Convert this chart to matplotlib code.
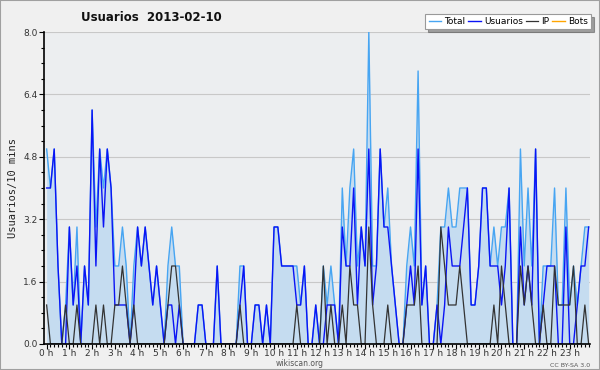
import matplotlib
matplotlib.use('Agg')
import matplotlib.pyplot as plt
from matplotlib.patches import Rectangle
from matplotlib.ticker import MultipleLocator, FixedLocator
import numpy as np

# Values per 10-minute slot, 2013-02-10 (144 slots)
usuarios = [
    4, 4, 5, 2, 0, 0, 3, 1, 2, 0,
    2, 1, 6, 2, 5, 3, 5, 4, 1, 1,
    1, 1, 0, 1, 3, 2, 3, 2, 1, 2,
    1, 0, 1, 1, 0, 1, 0, 0, 0, 0,
    1, 1, 0, 0, 0, 2, 0, 0, 0, 0,
    0, 1, 2, 0, 0, 1, 1, 0, 1, 0,
    3, 3, 2, 2, 2, 2, 1, 1, 2, 0,
    0, 1, 0, 0, 1, 1, 1, 0, 3, 2,
    2, 4, 1, 3, 2, 5, 1, 2, 5, 3,
    3, 2, 1, 0, 0, 1, 2, 1, 5, 1,
    2, 0, 0, 1, 0, 1, 3, 2, 2, 2,
    3, 4, 1, 1, 2, 4, 4, 2, 2, 2,
    1, 2, 4, 0, 0, 3, 1, 2, 1, 5,
    0, 1, 2, 2, 2, 0, 0, 3, 0, 0,
    1, 2, 2, 3]
ip = [
    1, 0, 0, 0, 0, 1, 0, 0, 1, 0,
    0, 0, 0, 1, 0, 1, 0, 0, 1, 1,
    2, 1, 0, 1, 0, 0, 0, 0, 0, 0,
    0, 0, 1, 2, 2, 1, 0, 0, 0, 0,
    0, 0, 0, 0, 0, 0, 0, 0, 0, 0,
    0, 1, 0, 0, 0, 0, 0, 0, 0, 0,
    0, 0, 0, 0, 0, 0, 1, 0, 0, 0,
    0, 0, 0, 2, 0, 1, 0, 0, 1, 0,
    2, 1, 1, 0, 0, 3, 1, 0, 0, 0,
    1, 0, 0, 0, 0, 1, 1, 1, 2, 0,
    0, 0, 0, 0, 3, 2, 1, 1, 1, 2,
    1, 0, 0, 0, 0, 0, 0, 0, 1, 0,
    2, 1, 0, 0, 0, 2, 1, 2, 1, 0,
    0, 1, 0, 0, 2, 1, 1, 1, 1, 2,
    0, 0, 1, 0]
bots = [0] * 144
total = [u + i + b for u, i, b in zip(usuarios, ip, bots)]

hour_labels = [f'{h} h' for h in range(24)]
y_ticks = [0.0, 1.6, 3.2, 4.8, 6.4, 8.0]

x = np.arange(len(total))

fig = plt.figure(figsize=(6, 3.7), dpi=100, facecolor='#f0f0f0')
ax = fig.add_axes([0.0733, 0.0703, 0.9097, 0.8432])
ax.set_facecolor('#eceef0')

# filled total + lines
ax.fill_between(x, total, 0, color='#c5dcf0', lw=0, zorder=1)
ax.plot(x, bots, color='#ffa500', lw=0.8, zorder=1.5)
l_tot, = ax.plot(x, total, color='#47a5f2', lw=1.0, zorder=2)
l_usr, = ax.plot(x, usuarios, color='#0a14f5', lw=1.0, zorder=2.2)
l_ip, = ax.plot(x, ip, color='#333333', lw=0.9, zorder=2.3)
l_bot = plt.Line2D([], [], color='#ffa500', lw=1.0)

ax.set_xlim(-0.7, 143.3)
ax.set_ylim(0, 8)

ax.yaxis.set_major_locator(FixedLocator(y_ticks))
ax.yaxis.set_minor_locator(MultipleLocator(0.4))
ax.set_yticklabels([f'{v:.1f}' for v in y_ticks])
ax.xaxis.set_major_locator(FixedLocator(np.arange(0, 144, 6)))
ax.xaxis.set_minor_locator(MultipleLocator(1))
ax.set_xticklabels(hour_labels)

ax.tick_params(axis='both', which='major', labelsize=6.5, colors='#333333',
               length=3.5, width=0.8, pad=1)
ax.tick_params(axis='x', which='major', pad=0)
ax.tick_params(axis='both', which='minor', length=2.5, width=0.8)
ax.tick_params(axis='both', which='both', color='black')

ax.grid(axis='y', which='major', color='#c8c8c8', lw=0.8, zorder=0)
ax.set_axisbelow(True)
for side in ['top', 'right']:
    ax.spines[side].set_visible(False)
for side in ['left', 'bottom']:
    ax.spines[side].set_linewidth(1.2)
    ax.spines[side].set_color('black')

ax.set_ylabel('Usuarios/10 mins', fontsize=7.5, family='DejaVu Sans Mono',
              color='#222222', labelpad=4)

fig.text(0.252, 0.952, 'Usuarios  2013-02-10', fontsize=8.5, fontweight='bold',
         ha='center', va='center', color='#111111')

leg = fig.legend([l_tot, l_usr, l_ip, l_bot], ['Total', 'Usuarios', 'IP', 'Bots'],
                 loc='upper right', bbox_to_anchor=(0.985, 0.962), ncol=4,
                 fontsize=6.5, frameon=True, fancybox=False, shadow=True,
                 handlelength=1.4, handletextpad=0.35, columnspacing=0.3,
                 borderpad=0.35, borderaxespad=0)
leg.get_frame().set_edgecolor('#999999')
leg.get_frame().set_linewidth(0.8)

fig.text(0.5, 0.006, 'wikiscan.org', fontsize=5.5, color='#555555', ha='center', va='bottom')
fig.text(0.983, 0.006, 'CC BY-SA 3.0', fontsize=4.5, color='#555555', ha='right', va='bottom')

fig.patches.append(Rectangle((0, 0), 1, 1, transform=fig.transFigure, fill=False,
                             edgecolor='#a0a0a0', lw=1.5))

fig.savefig('out.png', dpi=100, facecolor=fig.get_facecolor())
